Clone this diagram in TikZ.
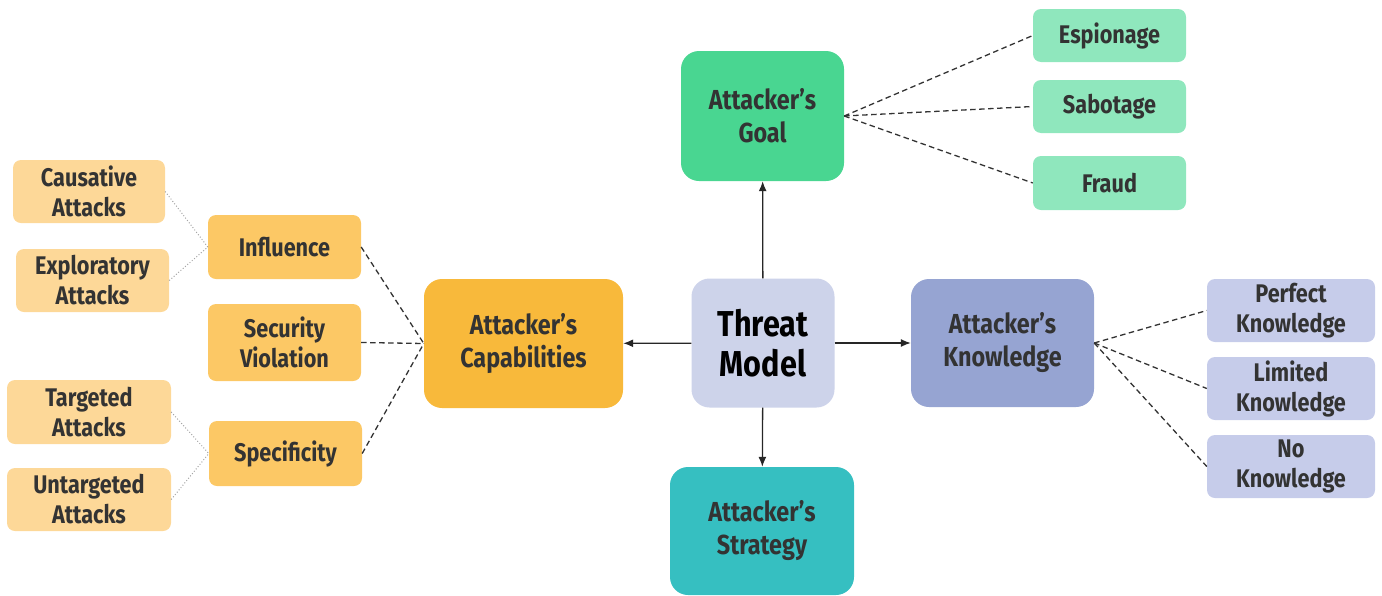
\documentclass[tikz,border=0pt]{standalone}
\usepackage{fontspec}
\setmainfont{Fira Sans}[FakeStretch=0.85]
\definecolor{leaforange}{HTML}{FDD898}
\definecolor{midorange}{HTML}{FCC865}
\definecolor{caporange}{HTML}{F8B93B}
\definecolor{goalgreen}{HTML}{49D691}
\definecolor{lightgreen}{HTML}{8FE7BD}
\definecolor{strategyteal}{HTML}{36BFC1}
\definecolor{knowblue}{HTML}{96A4D2}
\definecolor{lightblue}{HTML}{C6CCEA}
\definecolor{threatgray}{HTML}{CDD3EA}
\definecolor{inkgray}{HTML}{333333}
\usetikzlibrary{positioning, arrows.meta}

\begin{document}
\begin{tikzpicture}[x=1pt, y=-1pt,
    leaf/.style={rounded corners=8pt, inner sep=0pt, align=center, text=inkgray,
      font=\bfseries\fontsize{25.5}{30}\selectfont},
    hub/.style={rounded corners=18pt, inner sep=0pt, align=center, text=inkgray,
      minimum height=129pt, font=\bfseries\fontsize{27.5}{33}\selectfont},
    link/.style={dash pattern=on 5.5pt off 3.5pt, line width=1.3pt, draw=inkgray},
    sublink/.style={dotted, line width=1pt, draw=gray!70},
    branch/.style={-{Latex[length=10pt, width=8pt]}, line width=1.3pt, draw=black!85},
  ]
    \useasboundingbox (0,0) rectangle (1382,595);
    % centre and main branches
    \node[hub, fill=threatgray, text=black, minimum width=143pt,
      font=\bfseries\fontsize{36}{40}\selectfont] (threat) at (763,343) {Threat\\Model};
    \node[hub, fill=caporange, minimum width=199pt] (cap) at (523.5,343.5) {Attacker’s\\Capabilities};
    \node[hub, fill=goalgreen, minimum width=163pt, minimum height=130pt] (goal) at (762.5,116) {Attacker’s\\Goal};
    \node[hub, fill=knowblue, minimum width=183pt, minimum height=128pt] (know) at (1002.5,343) {Attacker’s\\Knowledge};
    \node[hub, fill=strategyteal, minimum width=184pt, minimum height=128pt] (strat) at (762,531) {Attacker’s\\Strategy};
    \draw[branch] (threat) -- (cap);
    \draw[branch] (threat) -- (know);
    \draw[branch] (threat) -- (goal);
    \draw[branch] (threat) -- (strat);
    % capabilities
    \node[leaf, fill=midorange, minimum width=153pt, minimum height=64pt] (infl) at (284.5,247) {Influence};
    \node[leaf, fill=midorange, minimum width=153pt, minimum height=77pt] (secv) at (284.5,342.5) {Security\\Violation};
    \node[leaf, fill=midorange, minimum width=153pt, minimum height=65pt] (spec) at (285.5,453.5) {Specificity};
    \node[leaf, fill=leaforange, minimum width=152pt, minimum height=63pt] (caus) at (89,191.5) {Causative\\Attacks};
    \node[leaf, fill=leaforange, minimum width=153pt, minimum height=63pt] (expl) at (92.5,280.5) {Exploratory\\Attacks};
    \node[leaf, fill=leaforange, minimum width=164pt, minimum height=64pt] (targ) at (89,412) {Targeted\\Attacks};
    \node[leaf, fill=leaforange, minimum width=164pt, minimum height=63pt] (untg) at (89,499.5) {Untargeted\\Attacks};
    \foreach \n in {infl, secv, spec}
      \draw[link] (\n.east) -- (cap.west);
    \draw[sublink] (caus.east) -- (infl.west);
    \draw[sublink] (expl.east) -- (infl.west);
    \draw[sublink] (targ.east) -- (spec.west);
    \draw[sublink] (untg.east) -- (spec.west);
    % goal
    \node[leaf, fill=lightgreen, minimum width=153pt, minimum height=53pt] (espi) at (1109.5,35.5) {Espionage};
    \node[leaf, fill=lightgreen, minimum width=153pt, minimum height=53pt] (sabo) at (1109.5,106.5) {Sabotage};
    \node[leaf, fill=lightgreen, minimum width=153pt, minimum height=54pt] (frau) at (1109.5,183) {Fraud};
    \foreach \n in {espi, sabo, frau}
      \draw[link] (goal.east) -- (\n.west);
    % knowledge
    \node[leaf, fill=lightblue, minimum width=168pt, minimum height=63pt] (perf) at (1291,310.5) {Perfect\\Knowledge};
    \node[leaf, fill=lightblue, minimum width=168pt, minimum height=63pt] (limi) at (1291,388.5) {Limited\\Knowledge};
    \node[leaf, fill=lightblue, minimum width=168pt, minimum height=63pt] (nokn) at (1291,466.5) {No\\Knowledge};
    \foreach \n in {perf, limi, nokn}
      \draw[link] (know.east) -- (\n.west);
  \end{tikzpicture}
\end{document}
